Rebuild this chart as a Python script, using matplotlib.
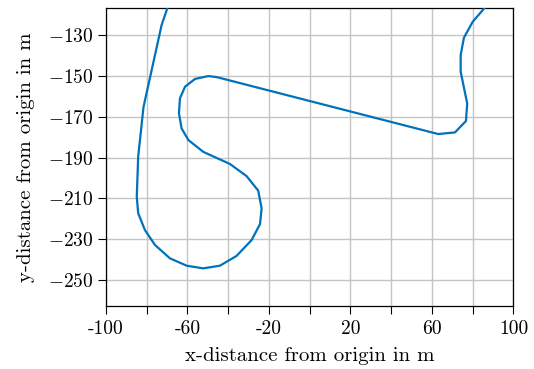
import numpy as np
import matplotlib
matplotlib.use("Agg")
import matplotlib.pyplot as plt

plt.rcParams['font.family'] = ['cmr10', 'DejaVu Serif']
plt.rcParams['mathtext.fontset'] = 'cm'

# trajectory (metres)
x_pos = [-69.0, -69.9, -72.7, -81.6, -84.2, -84.9, -84.2, -80.9, -76.0, -68.6,
         -60.4, -52.3, -44.1, -35.9, -28.5, -24.4, -23.6, -25.3, -31.0, -39.1,
         -52.3, -59.6, -62.9, -64.2, -63.7, -61.2, -56.3, -49.8, -45.7,
         63.1, 71.3, 76.7, 77.3, 74.1, 74.1, 75.7, 80.0, 85.7, 88.0]
y_pos = [-114.3, -116.9, -125.1, -165.3, -189.6, -209.2, -217.3, -225.5, -232.8, -239.4,
         -243.0, -244.3, -243.0, -238.2, -230.4, -222.6, -214.9, -206.2, -199.1, -193.2,
         -187.2, -181.4, -175.7, -168.3, -161.0, -155.3, -151.5, -150.1, -150.6,
         -178.5, -177.7, -172.1, -163.5, -148.0, -139.8, -131.3, -123.5, -116.9, -114.3]

x_ticks = [-100, -80, -60, -40, -20, 0, 20, 40, 60, 80, 100]
x_labels = ['-100', '', '-60', '', '-20', '', '20', '', '60', '', '100']
y_ticks = [-250, -230, -210, -190, -170, -150, -130]
y_labels = ['$-%d$' % abs(v) for v in y_ticks]

fig = plt.figure(figsize=(5.34, 3.69), dpi=100)
ax = fig.add_axes([0.1985, 0.1715, 0.763, 0.806])

ax.plot(x_pos, y_pos, color='#0072BD', linewidth=1.6, zorder=3)

ax.set_xlim(-100, 100)
ax.set_ylim(-262.6, -116.9)

ax.set_xticks(x_ticks)
ax.set_xticklabels(x_labels)
ax.set_yticks(y_ticks)
ax.set_yticklabels(y_labels)

ax.grid(True, color='#c4c4c4', linewidth=1.0)
ax.set_axisbelow(True)
ax.tick_params(direction='out', length=5.5, width=0.8, labelsize=14, colors='black')
ax.tick_params(axis='x', pad=5)
for sp in ax.spines.values():
    sp.set_linewidth(0.9)

# unlabelled x ticks are drawn grey
for t, lab in zip(ax.xaxis.get_major_ticks(), x_labels):
    if lab == '':
        t.tick1line.set_color('#a0a0a0')

ax.set_xlabel('x-distance from origin in m', fontsize=15, labelpad=6)
ax.set_ylabel('y-distance from origin in m', fontsize=15, labelpad=9)

fig.savefig('out.png', dpi=100)
